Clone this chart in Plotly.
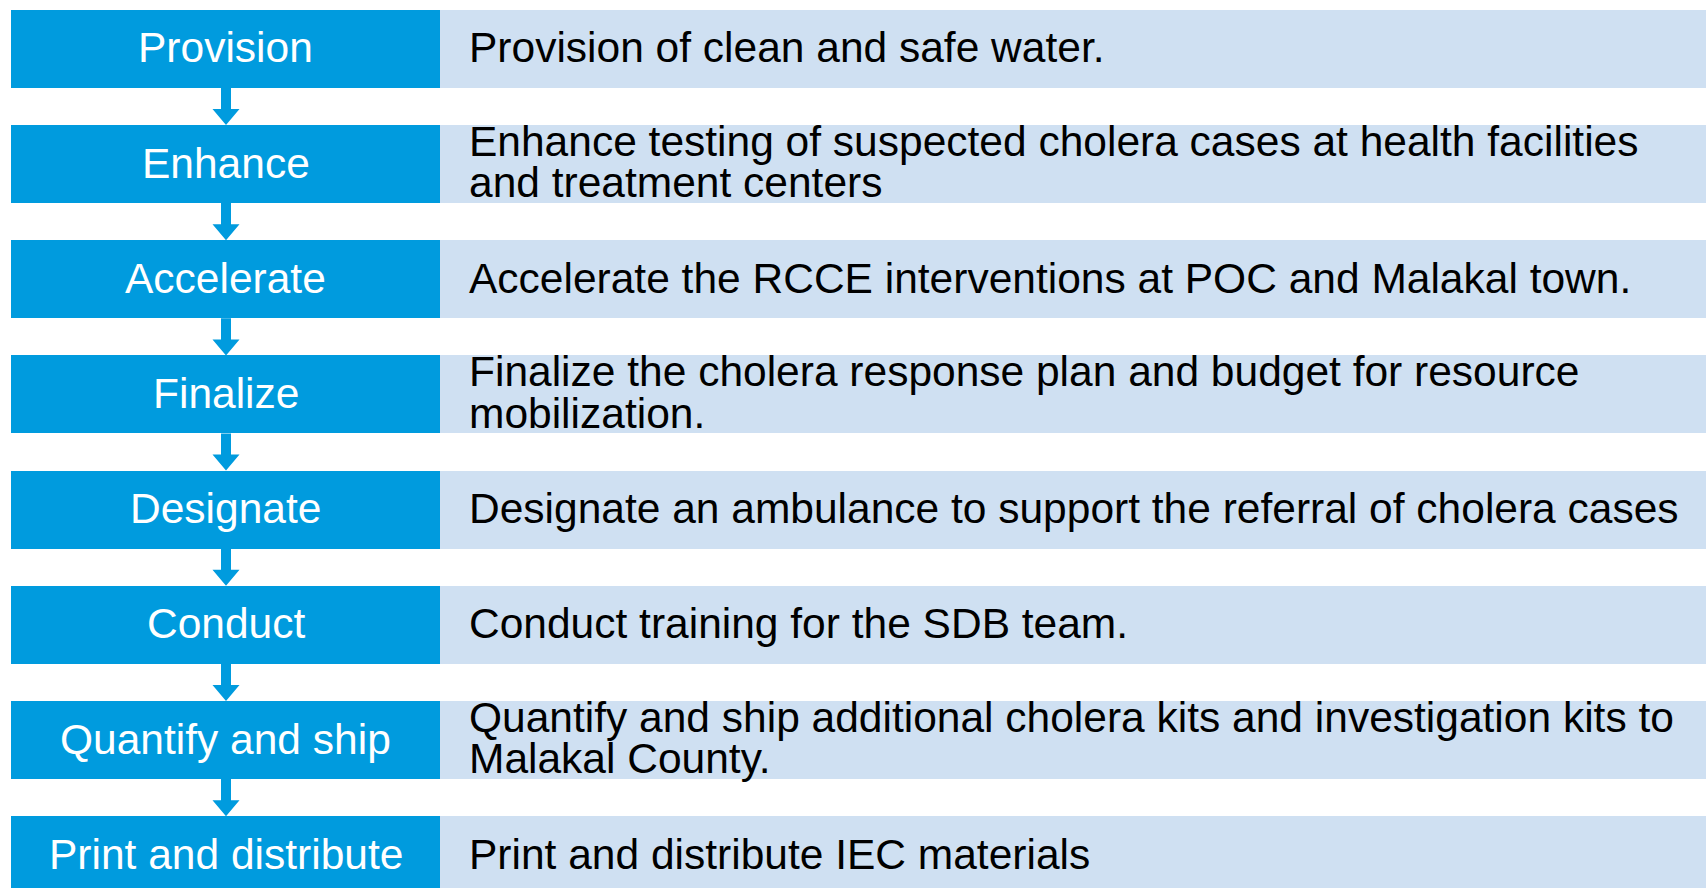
import plotly.graph_objects as go

# action plan steps (keyword, description lines)
steps = ['Provision', 'Enhance', 'Accelerate', 'Finalize', 'Designate',
         'Conduct', 'Quantify and ship', 'Print and distribute']
descriptions = [
    ['Provision of clean and safe water.'],
    ['Enhance testing of suspected cholera cases at health facilities',
     'and treatment centers'],
    ['Accelerate the RCCE interventions at POC and Malakal town.'],
    ['Finalize the cholera response plan and budget for resource',
     'mobilization.'],
    ['Designate an ambulance to support the referral of cholera cases'],
    ['Conduct training for the SDB team.'],
    ['Quantify and ship additional cholera kits and investigation kits to',
     'Malakal County.'],
    ['Print and distribute IEC materials'],
]

W, H = 1706, 888
blue = '#009BDE'
light = '#CFE0F2'
font_family = 'Arial, Liberation Sans, sans-serif'

# layout in pixels
row_pitch = 115.2
row_h = 78
first_center = 48.8
left_x0, left_x1 = 11, 440
right_x1 = W
bar_w = row_h / row_pitch
px_per_row = row_pitch
y_top = -first_center / row_pitch
y_bot = (H - first_center) / row_pitch

idx = list(range(len(steps)))

fig = go.Figure()
fig.add_trace(go.Bar(
    y=idx, x=[left_x1 - left_x0] * len(idx), base=left_x0,
    orientation='h', width=bar_w, marker=dict(color=blue, line=dict(width=0)),
    hoverinfo='skip', showlegend=False,
))
fig.add_trace(go.Bar(
    y=idx, x=[right_x1 - left_x1] * len(idx), base=left_x1,
    orientation='h', width=bar_w, marker=dict(color=light, line=dict(width=0)),
    hoverinfo='skip', showlegend=False,
))

annotations = []
line_gap = 41.5 / px_per_row
for i, (s, lines) in enumerate(zip(steps, descriptions)):
    annotations.append(dict(
        x=(left_x0 + left_x1) / 2, y=i - 1 / px_per_row, text=s, showarrow=False,
        xanchor='center', yanchor='middle',
        font=dict(family=font_family, size=42.5, color='white'),
    ))
    n = len(lines)
    for k, ln in enumerate(lines):
        annotations.append(dict(
            x=467, y=i + (k - (n - 1) / 2) * line_gap + (-2 / px_per_row if n > 1 else -1 / px_per_row),
            text=ln, showarrow=False, xanchor='left', yanchor='middle',
            font=dict(family=font_family, size=42.5, color='black'),
        ))

# down arrows between rows
shapes = []
cx = 226
shaft_hw = 5
head_hw = 13.5
head_len = 16 / px_per_row
for i in idx[:-1]:
    y0 = i + bar_w / 2
    y1 = i + 1 - bar_w / 2
    yh = y1 - head_len
    path = (f'M {cx - shaft_hw},{y0} L {cx + shaft_hw},{y0} L {cx + shaft_hw},{yh} '
            f'L {cx + head_hw},{yh} L {cx},{y1} L {cx - head_hw},{yh} '
            f'L {cx - shaft_hw},{yh} Z')
    shapes.append(dict(type='path', path=path, xref='x', yref='y',
                       fillcolor=blue, line=dict(width=0)))

fig.update_layout(
    width=W, height=H,
    margin=dict(l=0, r=0, t=0, b=0),
    paper_bgcolor='white', plot_bgcolor='white',
    barmode='overlay', bargap=0,
    annotations=annotations, shapes=shapes,
    xaxis=dict(range=[0, W], visible=False, fixedrange=True),
    yaxis=dict(range=[y_bot, y_top], visible=False, fixedrange=True),
)

fig.write_html('out.html', config=dict(displayModeBar=False),
               post_script="document.body.style.margin='0';document.body.style.overflow='hidden';")
